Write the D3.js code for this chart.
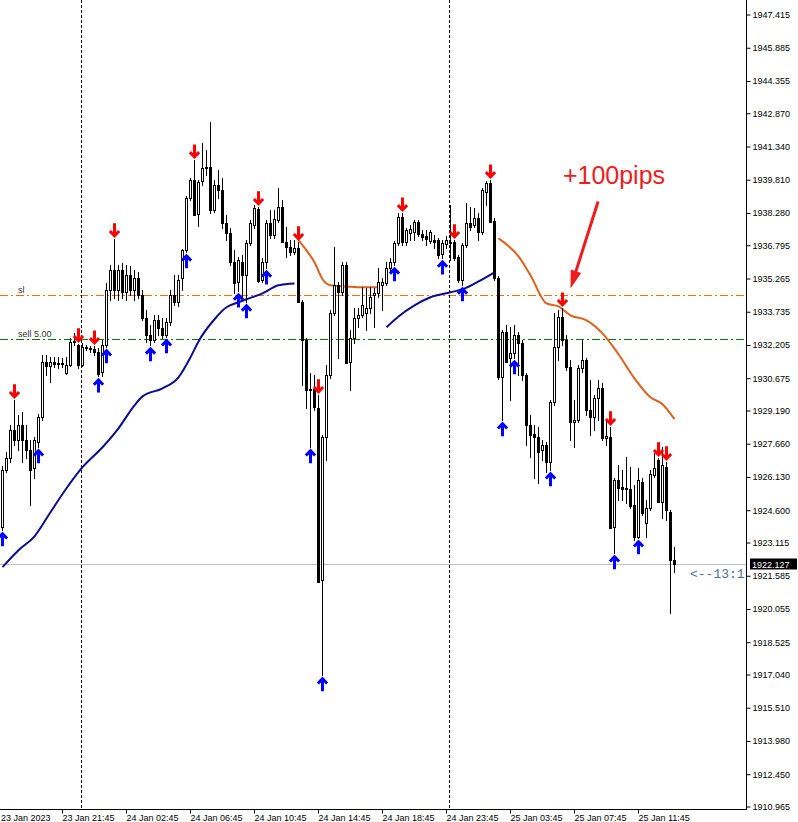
<!DOCTYPE html>
<html><head><meta charset="utf-8">
<script src="https://cdn.jsdelivr.net/npm/d3@7"></script>
<style>
html,body{margin:0;padding:0;background:#fff;}
svg{display:block;}
</style></head><body>
<svg id="chart" width="798" height="822"></svg>
<script>
// ---------------- DATA ----------------
const opens = [1923.82,1926.44,1926.99,1928.28,1927.82,1928.51,1927.82,1927.36,1926.53,1927.73,1928.88,1931.41,1931.22,1931.41,1931.32,1931.36,1930.90,1931.27,1932.33,1932.19,1931.27,1932.10,1932.05,1932.01,1931.87,1930.95,1932.19,1934.72,1935.64,1934.72,1935.64,1934.63,1935.41,1934.72,1935.27,1934.49,1933.43,1932.65,1932.42,1933.34,1932.97,1932.65,1933.25,1934.49,1934.17,1935.27,1936.56,1938.95,1939.78,1938.22,1939.73,1940.33,1940.38,1938.40,1939.55,1939.32,1937.80,1937.34,1936.01,1935.09,1936.01,1935.41,1936.88,1937.71,1938.45,1935.18,1936.01,1937.80,1937.25,1937.94,1938.54,1936.93,1936.70,1936.47,1936.65,1934.17,1932.42,1930.12,1930.17,1929.29,1921.38,1927.96,1930.81,1933.66,1934.95,1934.63,1935.87,1931.41,1932.51,1933.43,1933.57,1933.66,1933.89,1934.49,1934.58,1934.95,1935.04,1935.73,1936.01,1936.88,1938.08,1936.93,1937.34,1937.39,1937.85,1937.30,1937.20,1936.97,1937.02,1937.02,1936.38,1936.84,1936.93,1936.93,1936.24,1935.18,1936.79,1937.80,1937.71,1938.03,1937.39,1939.23,1939.64,1937.89,1935.27,1930.72,1932.79,1931.59,1931.82,1932.65,1932.28,1930.81,1928.51,1928.10,1927.96,1927.36,1927.59,1926.81,1929.57,1932.10,1933.48,1932.42,1931.18,1928.65,1928.74,1931.13,1931.50,1929.20,1928.88,1929.75,1930.21,1927.91,1927.96,1923.82,1925.98,1925.66,1925.61,1925.57,1924.83,1923.36,1925.89,1924.00,1924.69,1926.21,1926.90,1924.97,1926.58,1924.51,1922.30];
const highs = [1926.62,1927.27,1928.51,1929.66,1928.97,1929.11,1928.51,1927.82,1927.96,1929.02,1931.73,1931.73,1931.64,1931.64,1931.64,1931.59,1931.64,1932.51,1932.74,1932.24,1932.28,1932.19,1932.14,1932.14,1932.05,1932.42,1935.04,1935.87,1937.07,1935.87,1935.96,1935.87,1935.82,1935.64,1935.55,1934.72,1933.80,1933.11,1933.57,1933.57,1933.43,1933.43,1934.72,1935.41,1935.41,1936.61,1939.04,1939.87,1940.70,1939.78,1941.48,1941.16,1942.45,1939.78,1940.24,1939.87,1938.17,1937.57,1936.56,1936.24,1936.33,1937.02,1937.94,1938.63,1938.54,1936.19,1937.94,1938.40,1938.40,1939.41,1938.86,1937.62,1937.02,1937.02,1936.93,1934.26,1932.51,1930.90,1930.81,1929.89,1928.05,1931.27,1933.80,1936.70,1935.09,1936.01,1936.01,1932.88,1933.89,1933.89,1934.86,1934.81,1934.86,1934.81,1935.73,1935.27,1936.01,1936.19,1936.97,1938.26,1938.26,1937.57,1937.71,1937.94,1937.94,1937.48,1937.48,1937.48,1937.25,1937.11,1937.02,1937.20,1938.63,1937.02,1936.33,1936.88,1938.72,1938.54,1938.49,1938.26,1939.41,1939.73,1939.78,1938.03,1935.36,1932.88,1933.11,1933.02,1933.11,1932.79,1932.42,1930.90,1928.97,1928.51,1928.42,1927.82,1927.73,1929.66,1933.66,1933.80,1933.89,1932.65,1931.50,1929.66,1931.27,1932.42,1931.59,1930.58,1929.89,1930.58,1930.44,1928.74,1928.42,1926.07,1926.67,1926.44,1927.04,1926.58,1925.75,1926.53,1926.07,1925.06,1926.44,1927.22,1926.99,1927.50,1926.81,1924.60,1922.90];
const lows = [1923.68,1926.35,1926.81,1927.59,1927.36,1926.81,1926.99,1924.83,1926.07,1927.50,1928.74,1930.81,1930.49,1931.18,1931.13,1931.18,1930.86,1931.22,1932.19,1931.13,1931.22,1931.96,1931.87,1931.73,1930.76,1930.76,1932.10,1934.26,1934.35,1934.26,1934.35,1934.26,1934.49,1934.26,1934.35,1933.34,1932.33,1932.19,1932.33,1932.65,1932.51,1932.56,1933.11,1934.03,1933.98,1934.72,1936.47,1938.86,1938.17,1937.66,1939.55,1940.01,1938.26,1938.31,1938.95,1937.57,1937.02,1935.87,1934.58,1934.67,1934.31,1934.17,1936.79,1937.57,1935.09,1935.09,1935.73,1937.11,1937.11,1937.85,1936.93,1936.24,1936.33,1936.38,1934.17,1930.35,1929.29,1927.50,1929.20,1921.29,1917.01,1926.90,1930.67,1933.57,1931.59,1934.49,1931.36,1930.12,1932.28,1933.02,1933.48,1932.88,1933.66,1933.02,1934.40,1933.80,1934.95,1935.64,1935.87,1936.79,1936.79,1936.79,1937.02,1937.02,1937.20,1937.02,1936.79,1936.88,1936.65,1936.19,1936.19,1936.65,1936.10,1936.10,1935.09,1934.95,1936.70,1937.48,1937.62,1937.02,1937.30,1938.63,1937.85,1935.18,1930.63,1928.74,1931.41,1929.66,1931.59,1930.81,1930.58,1927.59,1927.04,1926.07,1925.84,1926.90,1926.35,1926.44,1929.43,1931.50,1932.19,1931.04,1927.82,1927.50,1928.65,1930.95,1928.97,1928.05,1928.28,1928.74,1927.82,1927.59,1923.77,1922.62,1925.06,1925.06,1924.92,1924.69,1923.22,1923.31,1924.37,1923.36,1924.60,1926.12,1924.97,1924.23,1924.14,1919.86,1921.75];
const closes = [1926.44,1926.99,1928.28,1927.82,1928.51,1927.82,1927.36,1926.44,1927.82,1928.88,1931.41,1931.22,1931.41,1931.32,1931.36,1931.32,1931.27,1932.33,1932.37,1931.27,1932.10,1932.05,1932.01,1931.87,1930.86,1932.19,1934.72,1935.64,1934.72,1935.64,1934.63,1935.41,1934.72,1935.27,1934.49,1933.43,1932.65,1932.42,1933.34,1932.97,1932.65,1933.25,1934.49,1934.17,1935.18,1936.56,1938.95,1939.78,1938.17,1939.69,1940.33,1940.38,1938.40,1939.55,1939.32,1937.80,1937.34,1936.01,1935.04,1936.10,1935.41,1936.88,1937.80,1938.49,1935.13,1936.01,1937.80,1937.25,1937.99,1938.54,1936.93,1936.70,1936.47,1936.65,1934.17,1932.42,1930.12,1930.17,1929.34,1921.29,1927.96,1930.81,1933.66,1934.95,1934.63,1935.87,1931.36,1932.51,1933.43,1933.57,1934.03,1933.89,1934.40,1934.58,1935.09,1935.09,1935.73,1936.01,1936.88,1938.08,1936.93,1937.48,1937.53,1937.85,1937.30,1937.16,1937.07,1937.39,1936.93,1936.33,1936.88,1937.02,1936.88,1936.19,1935.18,1936.79,1937.80,1937.62,1938.03,1937.39,1939.32,1939.64,1937.85,1935.27,1930.72,1932.79,1931.41,1931.82,1932.65,1932.28,1930.81,1928.51,1928.05,1927.96,1927.27,1927.59,1926.81,1929.57,1932.10,1933.48,1932.42,1931.18,1928.65,1928.74,1931.13,1931.50,1929.20,1928.88,1929.75,1930.21,1927.91,1928.00,1923.77,1925.98,1925.61,1925.57,1925.57,1924.78,1923.36,1925.98,1924.46,1924.69,1926.26,1926.53,1924.97,1926.67,1924.60,1922.30,1922.13];

const xTickIndex = [0,15,31,47,63,79,95,111,127,143,159];
const xTickLabels = ["23 Jan 2023","23 Jan 21:45","24 Jan 02:45","24 Jan 06:45","24 Jan 10:45","24 Jan 14:45","24 Jan 18:45","24 Jan 23:45","25 Jan 03:45","25 Jan 07:45","25 Jan 11:45"];
const yTickLabels = ["1947.415","1945.885","1944.355","1942.870","1941.340","1939.810","1938.280","1936.795","1935.265","1933.735","1932.205","1930.675","1929.190","1927.660","1926.130","1924.600","1923.115","1921.585","1920.055","1918.525","1917.040","1915.510","1913.980","1912.450","1910.965"];
const daySeparators = [20,112];
const sellSignals = [3,19,23,28,48,64,74,79,100,113,122,140,152,164,166];
const buySignals = [0,9,24,26,37,41,46,59,61,66,77,80,98,110,115,125,128,137,153,159];
const maUpA = [[0,1921.98],[4,1922.76],[8,1923.40],[12,1924.51],[16,1925.61],[20,1926.58],[25,1927.50],[29,1928.37],[33,1929.43],[35,1929.84],[40,1930.21],[44,1930.72],[47,1931.64],[49,1932.37],[53,1933.39],[56,1933.94],[59,1934.17],[61,1934.31],[65,1934.58],[69,1934.95],[73,1935.04]];
const maUpB = [[96,1933.02],[99,1933.52],[103,1934.03],[107,1934.40],[112,1934.63],[115,1934.77],[119,1935.13],[123,1935.55]];
const maDownA = [[74,1937.02],[76,1936.56],[78,1936.01],[80,1935.23],[82,1934.95],[86,1934.90],[90,1934.86],[94,1934.86]];
const maDownB = [[124,1937.11],[129,1936.28],[132,1935.41],[136,1934.12],[139,1933.98],[142,1933.57],[146,1933.34],[150,1932.74],[154,1931.78],[158,1930.67],[162,1929.80],[165,1929.48],[168,1928.79]];
const slLevel = 1934.49, sellLevel = 1932.47, lastPrice = 1922.127;
const slLabel = "sl", sellLabel = "sell 5.00", rrLabel = "<--13:1", pipsLabel = "+100pips";
const pipsText = [140.1, 1939.62];           // index, price
const pipsArrow = [[148.9, 1938.81],[142.0, 1934.81]];

// ---------------- CHART ----------------
const SANS = "'Liberation Sans',Arial,sans-serif";
const svg = d3.select("#chart");
const plotR = 746, plotB = 809;
const x = d3.scaleLinear().domain([0,168]).range([2.5,674.5]);
const y = d3.scaleLinear().domain([1910.965,1947.415]).range([806.5,14.5]);
const data = opens.map((o,i)=>({i,o,h:highs[i],l:lows[i],c:closes[i]}));

svg.append("rect").attr("width",798).attr("height",822).attr("fill","#fff");
svg.append("defs").append("clipPath").attr("id","clip").append("rect").attr("width",plotR).attr("height",plotB);
const plot = svg.append("g").attr("clip-path","url(#clip)");

// horizontal levels
function level(v, color, dash){
  plot.append("path").attr("d",`M0,${Math.round(y(v))+0.5}H${plotR}`)
    .attr("fill","none").style("stroke",color).style("stroke-width","1px").style("stroke-dasharray",dash||"none");
}
level(lastPrice,"#c0c0c0",null);
level(slLevel,"#ff6a00","8,3,2,3");
level(sellLevel,"#008000","8,3,2,3");
plot.append("text").attr("x",18).attr("y",Math.round(y(slLevel))-2).style("font-family",SANS).style("font-size","9px").attr("fill","#333").text(slLabel);
plot.append("text").attr("x",18).attr("y",Math.round(y(sellLevel))-2).style("font-family",SANS).style("font-size","9px").attr("fill","#333").text(sellLabel);

// day separators
plot.selectAll(".sep").data(daySeparators).join("line")
  .attr("x1",d=>x(d)-1).attr("x2",d=>x(d)-1).attr("y1",0).attr("y2",plotB)
  .attr("stroke","#000").attr("stroke-dasharray","3,2").attr("stroke-width",1).attr("shape-rendering","crispEdges");

// MA lines
const ln = d3.line().x(d=>x(d[0])).y(d=>y(d[1])).curve(d3.curveMonotoneX);
[maUpA,maUpB].forEach(s=>plot.append("path").attr("d",ln(s)).attr("fill","none").attr("stroke","#0c0c8c").attr("stroke-width",2));
[maDownA,maDownB].forEach(s=>plot.append("path").attr("d",ln(s)).attr("fill","none").attr("stroke","#e0601c").attr("stroke-width",2));

// candles
const cg = plot.append("g").attr("shape-rendering","crispEdges");
cg.selectAll(".wick").data(data).join("line")
  .attr("x1",d=>x(d.i)).attr("x2",d=>x(d.i))
  .attr("y1",d=>Math.round(y(d.h))).attr("y2",d=>Math.round(y(d.l))+1)
  .attr("stroke","#000").attr("stroke-width",1);
cg.selectAll(".body").data(data).join("rect")
  .attr("x",d=>x(d.i)-1).attr("width",2)
  .attr("y",d=>Math.round(y(Math.max(d.o,d.c)))+0.5)
  .attr("height",d=>Math.max(0,Math.round(y(Math.min(d.o,d.c)))-Math.round(y(Math.max(d.o,d.c)))))
  .attr("fill",d=>d.c>=d.o?"#fff":"#000").attr("stroke","#000").attr("stroke-width",1);

// signal arrows
const downPath = "M0,-14V-1.5M-4.6,-6.3L0,-1.5L4.6,-6.3";
const upPath = "M0,14V1.5M-4.6,6.3L0,1.5L4.6,6.3";
plot.selectAll(".sell").data(sellSignals).join("path")
  .attr("transform",d=>`translate(${x(d)},${y(highs[d])-2})`).attr("d",downPath)
  .attr("fill","none").attr("stroke","#ff0000").attr("stroke-width",3).attr("stroke-linejoin","miter");
plot.selectAll(".buy").data(buySignals).join("path")
  .attr("transform",d=>`translate(${x(d)},${y(lows[d])+2})`).attr("d",upPath)
  .attr("fill","none").attr("stroke","#0000ff").attr("stroke-width",3).attr("stroke-linejoin","miter");

// annotation
plot.append("text").attr("x",x(pipsText[0])).attr("y",y(pipsText[1])).style("font-family",SANS).style("font-size","25px").attr("fill","#ee1c1c").text(pipsLabel);
const [a0,a1] = pipsArrow;
const p0=[x(a0[0]),y(a0[1])], p1=[x(a1[0]),y(a1[1])];
const dx=p1[0]-p0[0], dy=p1[1]-p0[1], L=Math.hypot(dx,dy), ux=dx/L, uy=dy/L, nx=-uy, ny=ux;
const hb=[p1[0]-18*ux,p1[1]-18*uy];
plot.append("line").attr("x1",p0[0]).attr("y1",p0[1]).attr("x2",hb[0]+2*ux).attr("y2",hb[1]+2*uy).attr("stroke","#ee1c1c").attr("stroke-width",3);
plot.append("path").attr("d",`M${p1[0]},${p1[1]}L${hb[0]+5.5*nx},${hb[1]+5.5*ny}L${hb[0]-5.5*nx},${hb[1]-5.5*ny}Z`).attr("fill","#ee1c1c");

// ratio text
svg.append("text").attr("x",x(168)+15.5).attr("y",y(lastPrice)+14)
  .style("font-family","'Liberation Mono','DejaVu Sans Mono',monospace").style("font-size","13px")
  .attr("fill","#4f6d8f").text(rrLabel);

// axes
const yAxis = d3.axisRight(y).tickValues(yTickLabels.map(Number)).tickFormat((d,i)=>yTickLabels[i]).tickSize(4).tickPadding(2);
const gy = svg.append("g").attr("transform",`translate(${plotR+0.5},0)`).call(yAxis);
gy.select(".domain").remove();
gy.attr("font-family",null).attr("font-size",null);
gy.selectAll("text").style("font-family",SANS).style("font-size","9px").attr("fill","#000");
gy.selectAll("line").attr("stroke","#000");

const xAxis = d3.axisBottom(x).tickValues(xTickIndex).tickFormat((d,i)=>xTickLabels[i]).tickSize(4);
const gx = svg.append("g").attr("transform",`translate(0,${plotB+0.5})`).call(xAxis);
gx.select(".domain").remove();
gx.attr("font-family",null).attr("font-size",null);
gx.selectAll("text").style("font-family",SANS).style("font-size","9px").attr("fill","#000")
  .attr("text-anchor","start").attr("y",11.5).attr("dy",0).attr("x",(d,i)=>i===0?-2:-0.5);
gx.selectAll("line").attr("stroke","#000").attr("x1",-0.5).attr("x2",-0.5);
gx.selectAll(".tick").filter((d,i)=>i===0).select("line").remove();

svg.append("line").attr("x1",plotR+0.5).attr("x2",plotR+0.5).attr("y1",0).attr("y2",plotB+1).attr("stroke","#000");
svg.append("line").attr("x1",0).attr("x2",plotR+1).attr("y1",plotB+0.5).attr("y2",plotB+0.5).attr("stroke","#000");

// last price tag
const ly = Math.round(y(lastPrice));
svg.append("rect").attr("x",plotR+4).attr("y",ly-5.5).attr("width",47).attr("height",11).attr("fill","#000");
svg.append("text").attr("x",plotR+6).attr("y",ly+3.5).style("font-family",SANS).style("font-size","9px").attr("fill","#fff").text(lastPrice.toFixed(3));
</script>
</body></html>
